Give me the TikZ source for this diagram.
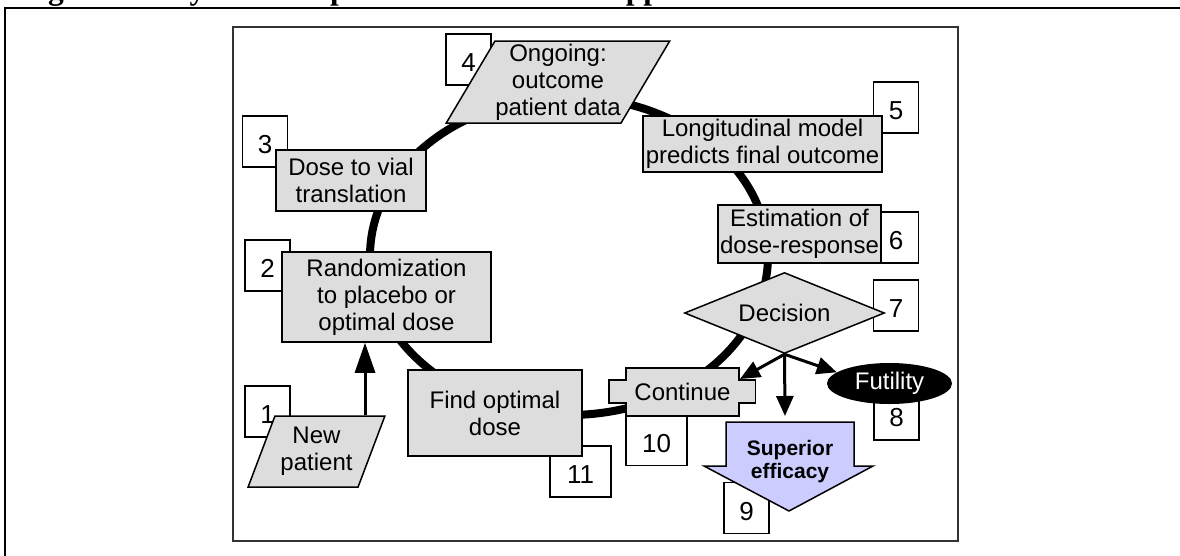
\documentclass[tikz,border=0pt]{standalone}
\usepackage{fontspec}
\setmainfont{Liberation Sans}
\newfontfamily\capfont{Liberation Serif}
\usetikzlibrary{shapes.geometric,arrows.meta}
\definecolor{boxgray}{HTML}{DDDDDD}
\definecolor{lavender}{HTML}{CCCCFF}
\definecolor{framegray}{HTML}{333333}

\begin{document}
\begin{tikzpicture}[x=1pt, y=-1pt,
    >={Triangle[length=20pt,width=17pt]},
    txt/.style={font=\fontsize{24}{27}\selectfont, align=center, inner sep=0pt},
    gbox/.style={txt, draw, fill=boxgray, line width=1.5pt},
    numbox/.style={draw, fill=white, line width=1.5pt, inner sep=0pt,
        minimum width=45pt, minimum height=51pt,
        font=\fontsize{26}{28}\selectfont, text height=24.6pt, text depth=0pt},
    slant/.style={gbox, trapezium, trapezium stretches=true},
    arr/.style={->, line width=3pt}]

    \useasboundingbox (0,0) rectangle (1180,555);
    \clip (0,0) rectangle (1180,555);

    \node[anchor=base west, inner sep=0pt, font=\capfont\bfseries\fontsize{31.4}{36}\selectfont]
        (caption) at (20,-1) {Figure 3: Bayesian adaptive dose allocation approach};
    \draw[line width=2pt] (1190,8) -- (5,8) -- (5,565);
    \draw[line width=2pt, framegray] (233,27) rectangle (958,541);

    % the loop
    \draw[line width=8pt] (569,256) ellipse [x radius=199pt, y radius=159pt];

    % step numbers
    \node[numbox] (n1) at (267.5,411.5) {1};
    \node[numbox] (n2) at (267.5,265.5) {2};
    \node[numbox] (n3) at (265,141.5) {3};
    \node[numbox] (n4) at (468.5,59.5) {4};
    \node[numbox] (n5) at (896,107.5) {5};
    \node[numbox] (n6) at (896,237.5) {6};
    \node[numbox] (n7) at (896,305.5) {7};
    \node[numbox] (n8) at (896.5,414.5) {8};
    \node[numbox] (n9) at (746.5,508) {9};
    \node[numbox, minimum width=61pt] (n10) at (656.5,440) {10};
    \node[numbox, minimum width=61pt] (n11) at (580.5,471.5) {11};

    % steps
    \node[slant, trapezium left angle=64.4, trapezium right angle=115.6,
        minimum width=137pt, minimum height=71pt] (newpat) at (316.5,451.5) {New\\patient};
    \node[gbox, minimum width=209pt, minimum height=90pt] (rand) at (386.5,297)
        {Randomization\\to placebo or\\optimal dose};
    \node[gbox, minimum width=150pt, minimum height=61pt] (dose) at (351,180.5)
        {Dose to vial\\translation};
    \node[slant, trapezium left angle=57.6, trapezium right angle=122.4,
        minimum width=224pt, minimum height=82pt] (ongo) at (558,82)
        {Ongoing:\\outcome\\patient data};
    \node[gbox, minimum width=239pt, minimum height=56pt] (longmod) at (762.5,144)
        {Longitudinal model\\predicts final outcome};
    \node[gbox, minimum width=163pt, minimum height=58pt] (estim) at (799.5,234)
        {Estimation of\\dose-response};
    \node[gbox, diamond, shape aspect=2.47, minimum width=200pt, minimum height=81pt]
        (decis) at (784.5,313) {Decision};
    \node[txt, ellipse, fill=black, text=white, minimum width=125pt, minimum height=41pt]
        (futil) at (889.5,383.5) {Futility};
    \node[gbox, minimum width=174pt, minimum height=86pt] (findopt) at (495,413) {Find optimal\\dose};

    % continue
    \coordinate (contc) at (682.5,392);
    \filldraw[fill=boxgray, line width=1.5pt]
        ([shift={(-56.5,-24)}]contc) -- ([shift={(56.5,-24)}]contc) -- ([shift={(56.5,-12)}]contc)
        -- ([shift={(73,-12)}]contc) -- ([shift={(73,11)}]contc) -- ([shift={(56.5,11)}]contc)
        -- ([shift={(56.5,24)}]contc) -- ([shift={(-56.5,24)}]contc) -- ([shift={(-56.5,11)}]contc)
        -- ([shift={(-73.5,11)}]contc) -- ([shift={(-73.5,-12)}]contc) -- ([shift={(-56.5,-12)}]contc) -- cycle;
    \node[txt] (cont) at (contc) {Continue};

    % superior efficacy
    \coordinate (supc) at (789,466);
    \filldraw[fill=lavender, line width=1.5pt]
        ([shift={(-63,-44)}]supc) -- ([shift={(65,-44)}]supc) -- ([shift={(65,0)}]supc)
        -- ([shift={(84,0)}]supc) -- ([shift={(0,45)}]supc) -- ([shift={(-85,0)}]supc)
        -- ([shift={(-63,0)}]supc) -- cycle;
    \node[txt, font=\bfseries\fontsize{21}{23}\selectfont] (supeff) at ([shift={(1,-4.5)}]supc)
        {Superior\\efficacy};

    % connectors
    \draw[arr, >={Triangle[length=30pt,width=20pt]}] (newpat.north -| 365,0) -- (rand.south -| 365,0);
    \draw[arr] (decis.south) -- ([shift={(57.5,-13)}]cont.center);
    \draw[arr] (decis.south) -- ([shift={(-4,-50)}]supc);
    \draw[arr] (decis.south) -- (futil.168);
\end{tikzpicture}
\end{document}
